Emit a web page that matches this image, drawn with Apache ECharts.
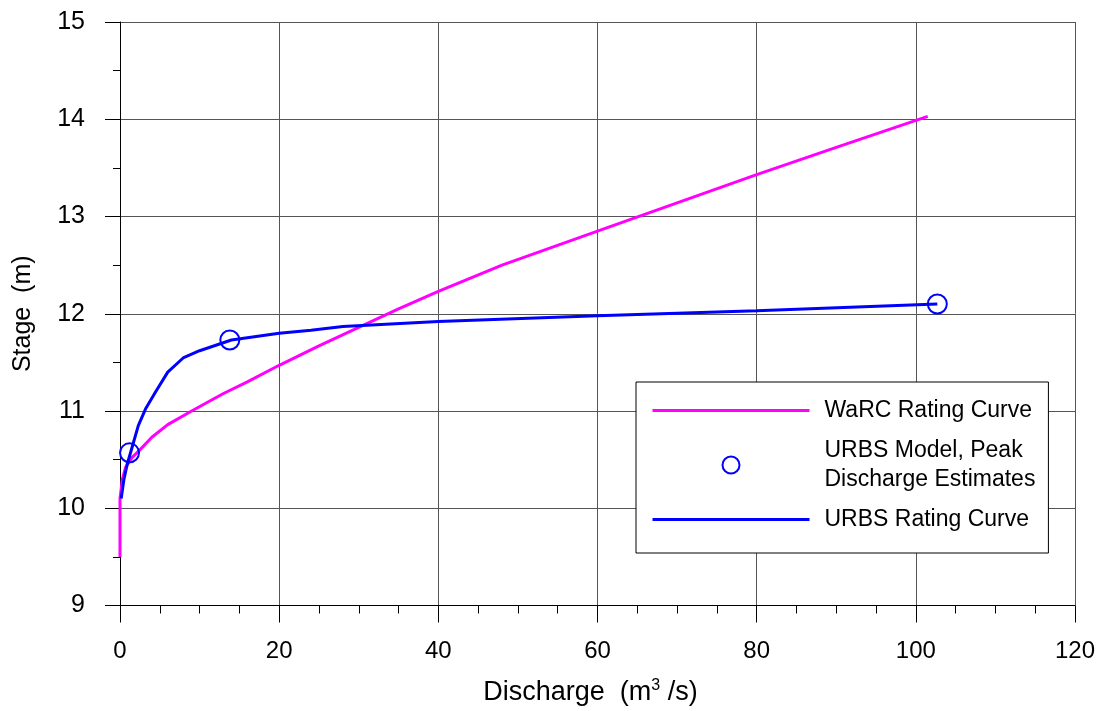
<!DOCTYPE html>
<html>
<head>
<meta charset="utf-8">
<script src="https://cdn.jsdelivr.net/npm/echarts@6/dist/echarts.min.js"></script>
<style>
html,body{margin:0;padding:0;background:#fff;}
#chart{width:1104px;height:711px;}
</style>
</head>
<body>
<div id="chart"></div>
<script>
// ---- Data ----
var warcQ     = [0,   0,    0.3,  0.7,   1.5,   2.5,  4,     6,     9,    13,    16,   20,    25,    30,    35,    40,    48,   60,    70,    80,    90,    101.5];
var warcStage = [9.5, 10.1, 10.3, 10.42, 10.52, 10.6, 10.73, 10.86, 11.0, 11.18, 11.3, 11.47, 11.67, 11.86, 12.05, 12.23, 12.5, 12.85, 13.14, 13.43, 13.71, 14.03];

var urbsQ     = [0.15, 0.5,  0.9,   1.6,   2.3,   3.2,   4.5,  6,    8,     10,    14,    20,   24,    28,    40,    60,    80,    102.7];
var urbsStage = [10.1, 10.3, 10.45, 10.65, 10.85, 11.02, 11.2, 11.4, 11.55, 11.62, 11.73, 11.8, 11.83, 11.87, 11.92, 11.98, 12.03, 12.1];

var peakQ     = [1.2,   13.8,  102.7];
var peakStage = [10.57, 11.73, 12.1];

var xTicks = [0, 20, 40, 60, 80, 100, 120];
var yTicks = [9, 10, 11, 12, 13, 14, 15];

var seriesNames = ['WaRC Rating Curve', 'URBS Model, Peak\nDischarge Estimates', 'URBS Rating Curve'];
var MAGENTA = '#ff00ff', BLUE = '#0000ff';

function pairs(a, b) { return a.map(function (v, i) { return [v, b[i]]; }); }

var FONT = '"Liberation Sans", Arial, sans-serif';
var chart = echarts.init(document.getElementById('chart'), null, {renderer: 'canvas'});
chart.setOption({
  animation: false,
  backgroundColor: '#ffffff',
  grid: {left: 120, right: 29, top: 22, bottom: 105, containLabel: false},
  xAxis: {
    type: 'value', min: xTicks[0], max: xTicks[xTicks.length - 1], interval: 20,
    name: 'Discharge  (m{sup|3} /s)',
    nameLocation: 'middle', nameGap: 72,
    nameTextStyle: {fontFamily: FONT, fontSize: 27, color: '#000', padding: [0, 14, 0, 0],
      rich: {sup: {fontFamily: FONT, fontSize: 16, verticalAlign: 'top', padding: [0, 0, 14, 0], color: '#000'}}},
    axisLine: {show: true, onZero: false, lineStyle: {color: '#000', width: 1}},
    axisTick: {show: true, inside: false, length: 17, lineStyle: {color: '#000', width: 1}},
    minorTick: {show: true, splitNumber: 4, length: 8, lineStyle: {color: '#000', width: 1}},
    splitLine: {show: true, lineStyle: {color: '#555', width: 1}},
    axisLabel: {fontFamily: FONT, fontSize: 24, color: '#000', margin: 34}
  },
  yAxis: {
    type: 'value', min: yTicks[0], max: yTicks[yTicks.length - 1], interval: 1,
    name: 'Stage  (m)',
    nameLocation: 'middle', nameGap: 84,
    nameTextStyle: {fontFamily: FONT, fontSize: 25, color: '#000'},
    axisLine: {show: true, onZero: false, lineStyle: {color: '#000', width: 1}},
    axisTick: {show: true, inside: false, length: 15, lineStyle: {color: '#000', width: 1}},
    minorTick: {show: true, splitNumber: 2, length: 7, lineStyle: {color: '#000', width: 1}},
    splitLine: {show: true, lineStyle: {color: '#555', width: 1}},
    axisLabel: {fontFamily: FONT, fontSize: 25, color: '#000', margin: 35}
  },
  legend: {
    orient: 'vertical',
    left: 636, top: 382,
    padding: [14, 13, 19, 15],
    backgroundColor: '#fff',
    borderColor: '#000', borderWidth: 1, borderRadius: 0,
    itemWidth: 157, itemHeight: 17, itemGap: 11,
    data: [
      {name: seriesNames[0], itemStyle: {color: 'rgba(0,0,0,0)', borderWidth: 0, opacity: 0}, lineStyle: {color: MAGENTA, width: 3}},
      {name: seriesNames[1], itemStyle: {color: 'rgba(0,0,0,0)', borderColor: BLUE, borderWidth: 2}},
      {name: seriesNames[2], itemStyle: {color: 'rgba(0,0,0,0)', borderWidth: 0, opacity: 0}, lineStyle: {color: BLUE, width: 3}}
    ],
    textStyle: {fontFamily: FONT, fontSize: 23, color: '#000', lineHeight: 29, padding: [0, 0, 0, 10]}
  },
  series: [
    {
      name: seriesNames[0], type: 'line', data: pairs(warcQ, warcStage),
      symbol: 'none', showSymbol: false, smooth: false,
      lineStyle: {color: MAGENTA, width: 3}, itemStyle: {color: MAGENTA}, z: 2
    },
    {
      name: seriesNames[2], type: 'line', data: pairs(urbsQ, urbsStage),
      symbol: 'none', showSymbol: false, smooth: false,
      lineStyle: {color: BLUE, width: 3}, itemStyle: {color: BLUE}, z: 3
    },
    {
      name: seriesNames[1], type: 'scatter', data: pairs(peakQ, peakStage),
      symbol: 'circle', symbolSize: 19,
      itemStyle: {color: 'rgba(0,0,0,0)', borderColor: BLUE, borderWidth: 2, opacity: 1}, z: 4
    }
  ]
});
</script>
</body>
</html>
